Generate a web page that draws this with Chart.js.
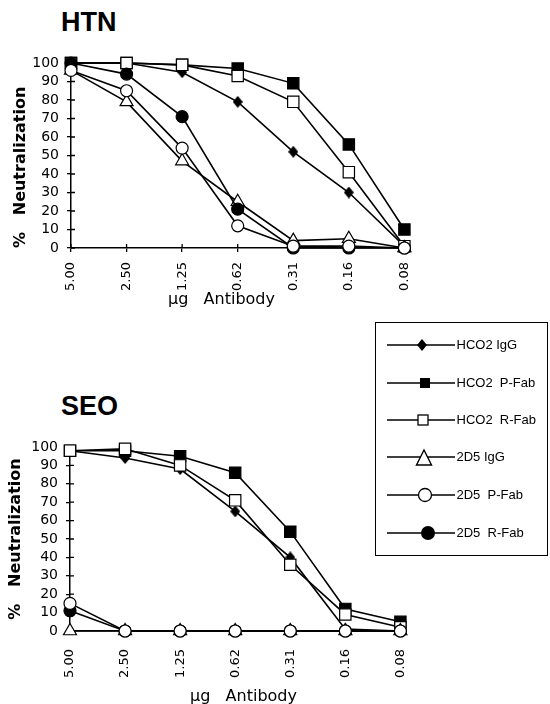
<!DOCTYPE html>
<html>
<head>
<meta charset="utf-8">
<title>HTN / SEO neutralization</title>
<script src="https://cdn.jsdelivr.net/npm/chart.js@4.4.0/dist/chart.umd.min.js"></script>
<style>
  body { margin: 0; width: 550px; height: 704px; overflow: hidden; background: #fff; position: relative; color: #000; }
  .panel { position: absolute; left: 0; width: 430px; }
  .title { position: absolute; left: 61px; font: bold 27px/27px 'Liberation Sans', Arial, sans-serif; }
  .xtitle { position: absolute; font: 16px/16px 'DejaVu Sans', sans-serif; white-space: pre; }
  #legend { position: absolute; left: 375px; top: 322px; width: 171px; height: 232px; border: 1.5px solid #000; }
  .item { position: absolute; left: 0; width: 100%; height: 20px; }
  .item svg { position: absolute; left: 10.5px; top: 0; }
  .item span { position: absolute; left: 80.5px; top: 0; font: 13px/20px 'Liberation Sans', Arial, sans-serif; white-space: pre; }
</style>
</head>
<body>

<div class="title" style="top:9px">HTN</div>
<div class="panel" style="top:0; height:320px"><canvas id="htn-chart"></canvas></div>
<div class="xtitle" style="left:168px; top:291px">μg   Antibody</div>

<div class="title" style="top:393px">SEO</div>
<div class="panel" style="top:360px; height:350px"><canvas id="seo-chart"></canvas></div>
<div class="xtitle" style="left:190px; top:688px">μg   Antibody</div>

<div id="legend"></div>

<script>
// Doses (µg antibody) on the x axis
const doses = ['5.00', '2.50', '1.25', '0.62', '0.31', '0.16', '0.08'];
const seriesNames = ['HCO2 IgG', 'HCO2  P-Fab', 'HCO2  R-Fab', '2D5 IgG', '2D5  P-Fab', '2D5  R-Fab'];

// HTN - % neutralization
const htnHco2IgG  = [100, 100, 95, 79, 52, 30, 1];
const htnHco2PFab = [100, 100, 99, 97, 89, 56, 10];
const htnHco2RFab = [100, 100, 99, 93, 79, 41, 1];
const htn2d5IgG   = [96, 79, 47, 25, 4, 5, 0];
const htn2d5PFab  = [96, 85, 54, 12, 1, 1, 0];
const htn2d5RFab  = [100, 94, 71, 21, 0, 0, 0];

// SEO - % neutralization
const seoHco2IgG  = [98, 94, 88, 65, 40, 1, 0];
const seoHco2PFab = [98, 98, 95, 86, 54, 12, 5];
const seoHco2RFab = [98, 99, 90, 71, 36, 9, 2];
const seo2d5IgG   = [0, 0, 0, 0, 0, 0, 0];
const seo2d5PFab  = [15, 0, 0, 0, 0, 0, 0];
const seo2d5RFab  = [11, 0, 0, 0, 0, 0, 0];

// Diamond a bit taller than wide, like the original marker
function makeDiamond(w, h) {
    const c = document.createElement('canvas');
    c.width = w;
    c.height = h;
    const g = c.getContext('2d');
    g.beginPath();
    g.moveTo(w / 2, 0);
    g.lineTo(w, h / 2);
    g.lineTo(w / 2, h);
    g.lineTo(0, h / 2);
    g.closePath();
    g.fillStyle = '#000';
    g.fill();
    return c;
}

const markers = [
    { pointStyle: makeDiamond(10, 12), pointRadius: 6, pointBackgroundColor: '#000', order: 6 },
    { pointStyle: 'rect', pointRadius: 8, pointBackgroundColor: '#000', order: 5 },
    { pointStyle: 'rect', pointRadius: 8, pointBackgroundColor: '#fff', order: 4 },
    { pointStyle: 'triangle', pointRadius: 7.5, pointBackgroundColor: '#fff', order: 3 },
    { pointStyle: 'circle', pointRadius: 6, pointBackgroundColor: '#fff', order: 1 },
    { pointStyle: 'circle', pointRadius: 6, pointBackgroundColor: '#000', order: 2 }
];

// Small tick marks on the inner side of the axes (ticks cross the axis)
const innerTicks = {
    id: 'innerTicks',
    beforeDatasetsDraw(chart) {
        const { ctx, chartArea, scales } = chart;
        ctx.save();
        ctx.strokeStyle = '#000';
        ctx.lineWidth = 1.3;
        ctx.beginPath();
        scales.y.ticks.forEach((t, i) => {
            const py = scales.y.getPixelForTick(i);
            ctx.moveTo(chartArea.left, py);
            ctx.lineTo(chartArea.left + 4, py);
        });
        scales.x.ticks.forEach((t, i) => {
            const px = scales.x.getPixelForTick(i);
            ctx.moveTo(px, chartArea.bottom);
            ctx.lineTo(px, chartArea.bottom - 4);
        });
        ctx.stroke();
        ctx.restore();
    }
};

function buildDatasets(series) {
    return series.map((data, i) => Object.assign({
        label: seriesNames[i],
        data: data,
        borderColor: '#000',
        borderWidth: 1.6,
        pointBorderColor: '#000',
        pointBorderWidth: 1.2,
        tension: 0,
        clip: false
    }, markers[i]));
}

function makeChart(id, series, o) {
    return new Chart(document.getElementById(id), {
        type: 'line',
        data: { labels: doses, datasets: buildDatasets(series) },
        options: {
            responsive: true,
            maintainAspectRatio: false,
            animation: false,
            layout: { padding: { top: o.top, right: 18, left: 0, bottom: 0 } },
            plugins: { legend: { display: false }, tooltip: { enabled: false } },
            scales: {
                x: {
                    afterFit: s => { s.height = o.xHeight; },
                    border: { display: true, color: '#000', width: 1.5 },
                    grid: { drawOnChartArea: false, drawTicks: true, tickLength: 4, color: '#000', lineWidth: 1.3 },
                    ticks: {
                        autoSkip: false, minRotation: 90, maxRotation: 90,
                        padding: o.xPad, color: '#000',
                        font: { family: 'DejaVu Sans', size: 13 }
                    }
                },
                y: {
                    min: 0, max: 100,
                    afterFit: s => { s.width = o.left; },
                    border: { display: true, color: '#000', width: 1.5 },
                    grid: { drawOnChartArea: false, drawTicks: true, tickLength: 4, color: '#000', lineWidth: 1.3 },
                    ticks: {
                        stepSize: 10, autoSkip: false, padding: 8, color: '#000',
                        font: { family: 'DejaVu Sans', size: 14 }
                    },
                    title: {
                        display: true,
                        text: '%   Neutralization',
                        align: o.yAlign,
                        color: '#000',
                        padding: { top: o.yPad, bottom: 0 },
                        font: { family: 'DejaVu Sans', size: 16, weight: 'bold' }
                    }
                }
            }
        },
        plugins: [innerTicks]
    });
}

// Legend box with line-through markers
function buildLegend() {
    const shapes = [
        '<polygon points="35,4 40,10 35,16 30,10" fill="#000"/>',
        '<rect x="33" y="5" width="10" height="10" fill="#000"/>',
        '<rect x="31" y="5" width="10" height="10" fill="#fff" stroke="#000" stroke-width="1.3"/>',
        '<polygon points="37,3 44.5,18 29.5,18" fill="#fff" stroke="#000" stroke-width="1.4"/>',
        '<circle cx="38" cy="10" r="6.5" fill="#fff" stroke="#000" stroke-width="1.3"/>',
        '<circle cx="41" cy="10" r="7" fill="#000"/>'
    ];
    const rowTops = [11.5, 49.5, 86.5, 123.5, 161.5, 199.5];
    const box = document.getElementById('legend');
    seriesNames.forEach((name, i) => {
        const row = document.createElement('div');
        row.className = 'item';
        row.style.top = rowTops[i] + 'px';
        row.innerHTML = '<svg width="70" height="20"><line x1="0" y1="10" x2="68" y2="10" stroke="#000" stroke-width="1.4"/>' +
            shapes[i] + '</svg><span>' + name + '</span>';
        box.appendChild(row);
    });
}

document.addEventListener('DOMContentLoaded', function() {
    makeChart('htn-chart',
        [htnHco2IgG, htnHco2PFab, htnHco2RFab, htn2d5IgG, htn2d5PFab, htn2d5RFab],
        { top: 63, xHeight: 72, left: 71, xPad: 10, yAlign: 'start', yPad: 11 });
    makeChart('seo-chart',
        [seoHco2IgG, seoHco2PFab, seoHco2RFab, seo2d5IgG, seo2d5PFab, seo2d5RFab],
        { top: 87, xHeight: 79, left: 70, xPad: 14, yAlign: 'center', yPad: 6 });
    buildLegend();
});
</script>
</body>
</html>
